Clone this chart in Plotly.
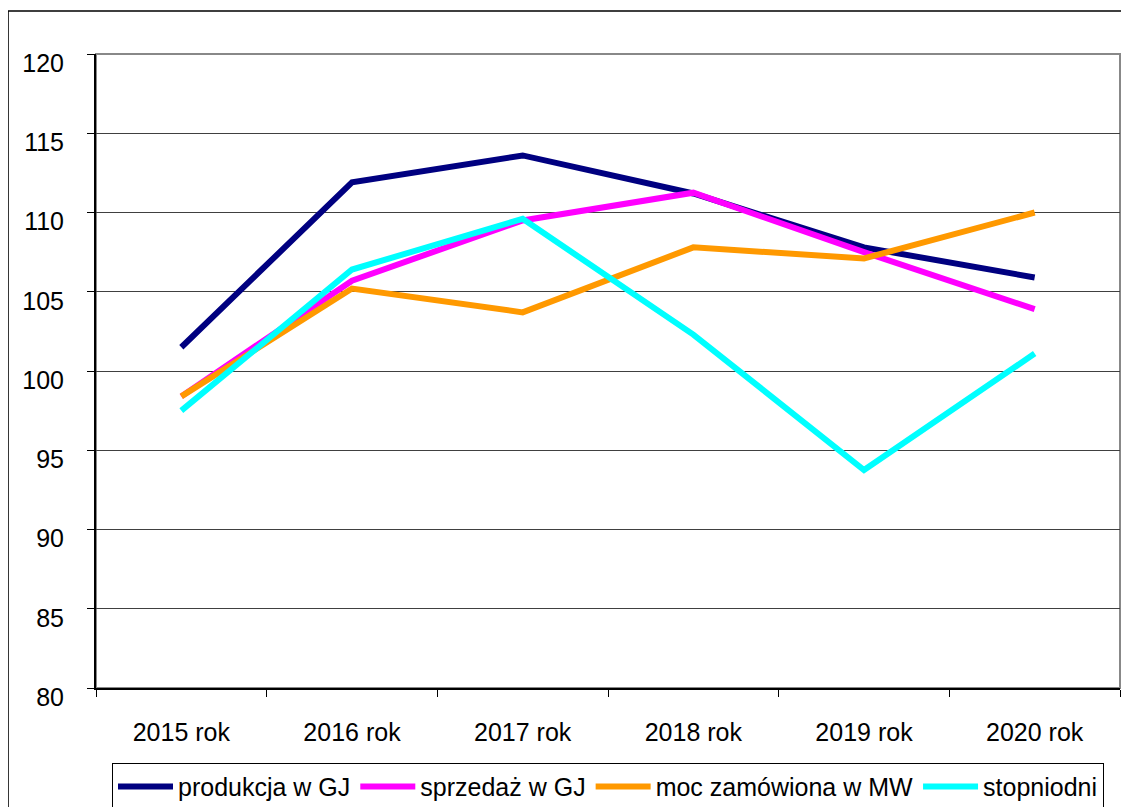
import plotly.graph_objects as go

years = ["2015 rok", "2016 rok", "2017 rok", "2018 rok", "2019 rok", "2020 rok"]

produkcja = [101.5, 111.9, 113.6, 111.2, 107.8, 105.9]
sprzedaz = [98.4, 105.7, 109.5, 111.25, 107.5, 103.9]
moc = [98.4, 105.2, 103.7, 107.8, 107.1, 110.0]
stopniodni = [97.5, 106.4, 109.6, 102.3, 93.75, 101.1]

series = [
    ("produkcja w GJ", produkcja, "#000080"),
    ("sprzedaż w GJ", sprzedaz, "#FF00FF"),
    ("moc zamówiona w MW", moc, "#FF9900"),
    ("stopniodni", stopniodni, "#00FFFF"),
]

fig = go.Figure()

for name, vals, color in series:
    fig.add_trace(go.Scatter(x=years, y=vals, mode="lines", name=name,
                             line=dict(color=color, width=6)))

# plot area border (grey) and outer chart border (black)
fig.add_shape(type="rect", xref="paper", yref="paper", x0=0, y0=0, x1=1, y1=1,
              line=dict(color="#888888", width=2), layer="below")
fig.add_shape(type="rect", xref="paper", yref="paper",
              x0=-0.0859, y0=-0.3, x1=1.2, y1=1.0678,
              line=dict(color="black", width=1.5))

# page has an 8px body margin, so the figure is sized to fit the window
fig.update_layout(
    width=1121, height=799,
    margin=dict(l=88, r=9, t=46, b=119, autoexpand=False),
    paper_bgcolor="white", plot_bgcolor="white",
    font=dict(family="Liberation Sans, Arial, sans-serif", size=25, color="black"),
    showlegend=True,
    legend=dict(orientation="h", x=0.5, xanchor="center", y=-0.118, yanchor="top",
                bordercolor="black", borderwidth=1, font=dict(size=25),
                itemwidth=55, tracegroupgap=0),
    xaxis=dict(type="category", showgrid=False, showline=True, linecolor="black",
               linewidth=2, ticks="outside", tickson="boundaries", ticklen=7,
               tickcolor="black", tickwidth=1, ticklabelstandoff=21,
               range=[-0.5, 5.5], automargin=False),
    yaxis=dict(range=[80, 120], dtick=5, showgrid=True, gridcolor="#404040",
               gridwidth=1.3, showline=True, linecolor="black", linewidth=2,
               ticks="outside", ticklen=7, tickcolor="black", tickwidth=1,
               ticklabelstandoff=18, ticklabelshift=9, zeroline=False,
               automargin=False),
)

fig.write_html("out.html")
